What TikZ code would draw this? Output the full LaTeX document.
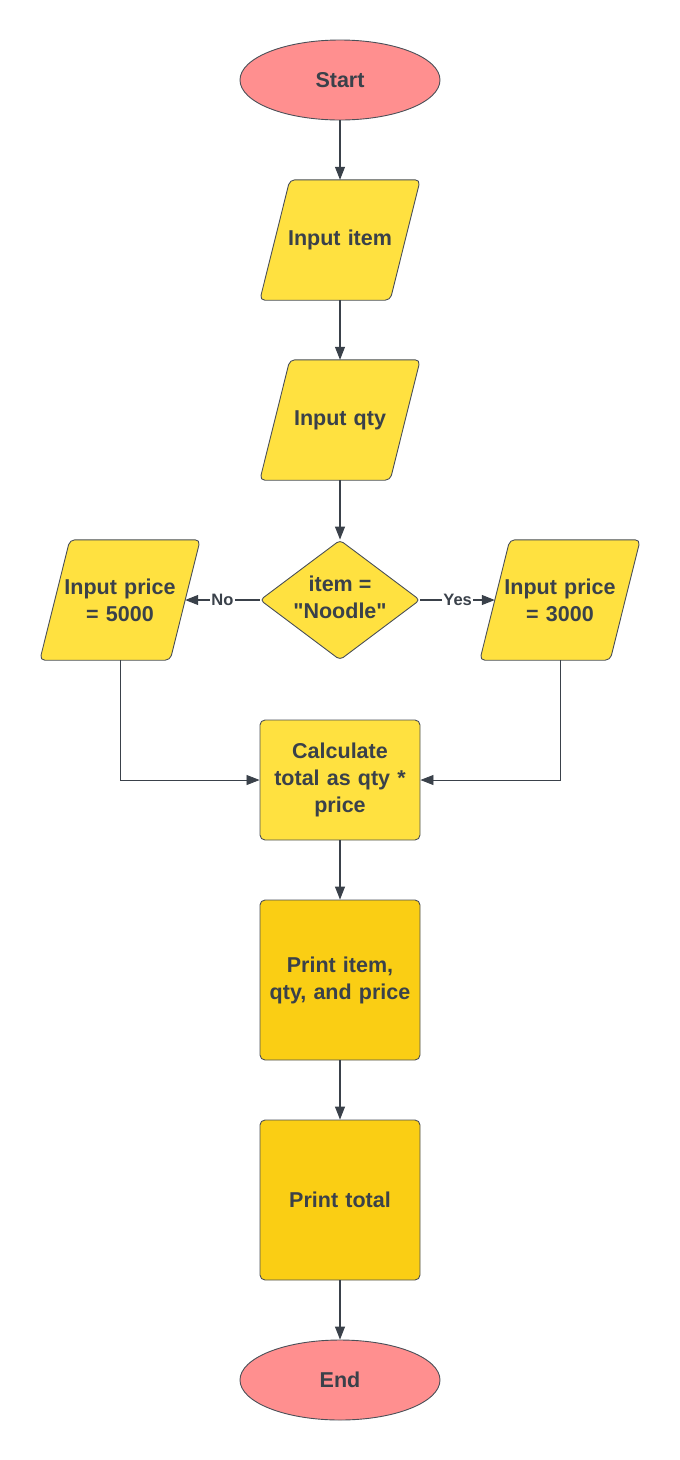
\documentclass[tikz,border=0pt]{standalone}
\usepackage{fontspec}
\setmainfont{Liberation Sans}
\font\quotefont="Liberation Sans/B" at 21.5pt
\newcommand\qmark{{\quotefont\char34}}
\usetikzlibrary{arrows.meta,shapes.geometric,backgrounds}
\definecolor{ink}{HTML}{3A414A}
\definecolor{edge}{HTML}{4A5058}
\definecolor{salmon}{HTML}{FF8F8F}
\definecolor{lightyel}{HTML}{FFE140}
\definecolor{darkyel}{HTML}{FACE14}
\begin{document}
\begin{tikzpicture}[x=1pt,y=-1pt,
  base/.style={font=\bfseries\fontsize{21.5}{27}\selectfont, text=ink, align=center, inner sep=0pt},
  term/.style={base, ellipse, draw=edge, line width=0.9pt, fill=salmon, minimum width=200pt, minimum height=80pt},
  procbox/.style={base, rectangle, rounded corners=5pt, draw=edge, line width=0.9pt, fill=lightyel, minimum width=160pt, minimum height=120pt, text width=156pt},
  printbox/.style={procbox, fill=darkyel, minimum height=160pt},
  paratext/.style={base, rectangle, minimum width=160pt, minimum height=120pt, text width=150pt},
  parashape/.style={draw=edge, line width=0.9pt, fill=lightyel, rounded corners=5pt},
  decshape/.style={diamond, draw=edge, line width=0.9pt, fill=lightyel, minimum width=160pt, minimum height=120pt, inner sep=0pt, rounded corners=4pt},
  conn/.style={draw=ink, line width=1.1pt, -{Triangle[length=13pt,width=10pt]}},
  lbl/.style={font=\bfseries\fontsize{16.5}{19}\selectfont, text=ink, fill=white, inner sep=1.5pt}
]
\useasboundingbox (0,0) rectangle (680,1460);

\node[term] (start) at (340,80) {Start};
\node[paratext] (inItem) at (340,240) {Input item};
\node[paratext] (inQty) at (340,420) {Input qty};
\node[decshape] (dec) at (340,600) {};
\node[base] (dectext) at (340,597) {item =\\\qmark Noodle\qmark};
\node[paratext] (inNo) at (120,600) {Input price\\= 5000};
\node[paratext] (inYes) at (560,600) {Input price\\= 3000};
\node[procbox] (calc) at (340,780) {Calculate\\total as qty *\\price};
\node[printbox] (pItem) at (340,980) {Print item,\\qty, and price};
\node[printbox] (pTotal) at (340,1200) {Print total};
\node[term] (end) at (340,1380) {End};

\begin{scope}[on background layer]
\foreach \n in {inItem,inQty,inNo,inYes}
  \draw[parashape] ([xshift=30pt]\n.north west) -- (\n.north east) -- ([xshift=-30pt]\n.south east) -- (\n.south west) -- cycle;
\end{scope}

\draw[conn] (start) -- (inItem);
\draw[conn] (inItem) -- (inQty);
\draw[conn] (inQty) -- (dec);
\draw[conn] (dec.west) -- node[lbl]{No} ([xshift=-15pt]inNo.east);
\draw[conn] (dec.east) -- node[lbl]{Yes} ([xshift=15pt]inYes.west);
\draw[conn, line width=0.8pt] (inNo.south) |- (calc.west);
\draw[conn, line width=0.8pt] (inYes.south) |- (calc.east);
\draw[conn] (calc) -- (pItem);
\draw[conn] (pItem) -- (pTotal);
\draw[conn] (pTotal) -- (end);
\end{tikzpicture}
\end{document}
